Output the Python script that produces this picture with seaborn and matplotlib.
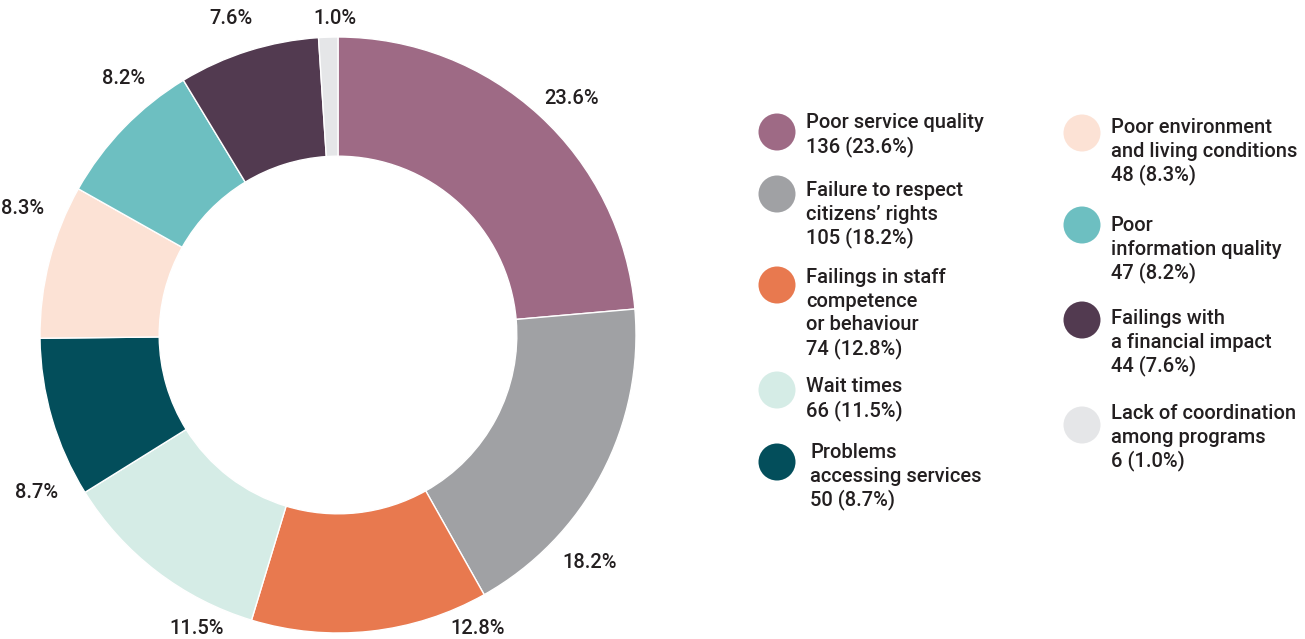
import matplotlib
matplotlib.use("Agg")
import matplotlib.pyplot as plt
from matplotlib.patches import Circle
import seaborn as sns

sns.set_theme(style="white")
plt.rcParams['font.family'] = ['Roboto', 'DejaVu Sans']

categories = [
    "Poor service quality",
    "Failure to respect\ncitizens\u2019 rights",
    "Failings in staff\ncompetence\nor behaviour",
    "Wait times",
    "Problems\naccessing services",
    "Poor environment\nand living conditions",
    "Poor\ninformation quality",
    "Failings with\na financial impact",
    "Lack of coordination\namong programs",
]
counts = [136, 105, 74, 66, 50, 48, 47, 44, 6]
percents = [23.6, 18.2, 12.8, 11.5, 8.7, 8.3, 8.2, 7.6, 1.0]
colors = ["#9E6A85", "#A0A1A4", "#E8794F", "#D5ECE6", "#034E5B",
          "#FCE2D5", "#6DBFC1", "#523A50", "#E5E6E8"]

# layout: percent-label positions (pixels, from top-left)
pct_label_xy = [(572, 98), (590, 563), (478, 628), (197, 629), (37, 493),
                (23, 208), (124, 79), (231, 19), (335, 18)]

W, H = 1305, 639
FS = 14.5
TXT = "#231F20"
fig = plt.figure(figsize=(W / 100, H / 100), dpi=100)

# donut
cx, cy, R = 338, 335, 298
ax = fig.add_axes([(cx - R) / W, (H - cy - R) / H, 2 * R / W, 2 * R / H])
wedges, _ = ax.pie(
    counts, colors=colors, startangle=90, counterclock=False,
    wedgeprops=dict(width=0.40, edgecolor="white", linewidth=1.0),
)
ax.set_xlim(-1, 1)
ax.set_ylim(-1, 1)
ax.set_aspect("equal")
ax.axis("off")

# overlay in pixel coordinates
lax = fig.add_axes([0, 0, 1, 1])
lax.set_xlim(0, W)
lax.set_ylim(H, 0)
lax.axis("off")

for p, (x, y) in zip(percents, pct_label_xy):
    lax.text(x, y, f"{p:.1f}%", fontsize=FS, color=TXT, ha="center",
             va="center", fontweight="medium")

left_items = [0, 1, 2, 3, 4]
right_items = [5, 6, 7, 8]
left_circle_y = [132, 194, 285, 390, 462]
left_text_top = [122.5, 190.5, 277.5, 386.5, 452.5]
left_text_x = [806, 806, 806, 806, 810]
right_circle_y = [133, 225, 320, 425]
right_text_top = [127.5, 225.5, 318.5, 413.5]
line_gap = 23.6

def draw_item(i, ccx, ccy, tx, ty):
    lax.add_patch(Circle((ccx, ccy), 18.5, color=colors[i], lw=0))
    lines = categories[i].split("\n") + [f"{counts[i]} ({percents[i]:.1f}%)"]
    for k, line in enumerate(lines):
        lax.text(tx, ty + k * line_gap, line, fontsize=FS, color=TXT,
                 ha="left", va="center", fontweight="medium")

for j, i in enumerate(left_items):
    draw_item(i, 777, left_circle_y[j], left_text_x[j], left_text_top[j])
for j, i in enumerate(right_items):
    draw_item(i, 1082, right_circle_y[j], 1111, right_text_top[j])

fig.savefig("out.png", dpi=100, facecolor="white")
